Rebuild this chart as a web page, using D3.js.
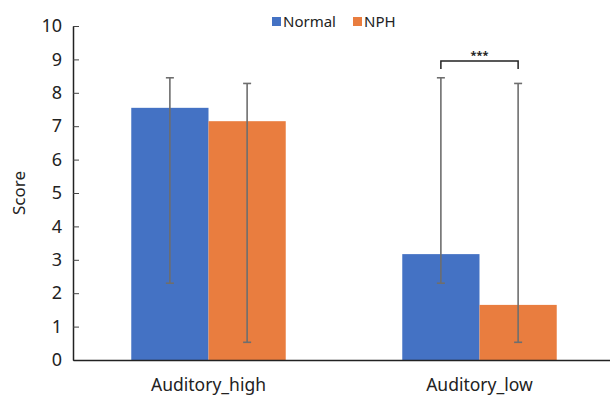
<!DOCTYPE html>
<html>
<head>
<meta charset="utf-8">
<script src="https://cdn.jsdelivr.net/npm/d3@7/dist/d3.min.js"></script>
<style>
  body { margin: 0; background: #fff; }
  text { font-family: "Noto Sans", sans-serif; fill: #222; }
</style>
</head>
<body>
<div id="chart"></div>
<script>
const width = 610;
const height = 397;

const categories = ["Auditory_high", "Auditory_low"];
const groups = ["Normal", "NPH"];
const normalValues = [7.55, 3.17];
const nphValues = [7.15, 1.65];
const normalErrLow = [2.3, 2.3];
const normalErrHigh = [8.45, 8.45];
const nphErrLow = [0.53, 0.53];
const nphErrHigh = [8.28, 8.28];
const yTicks = [0, 1, 2, 3, 4, 5, 6, 7, 8, 9, 10];

const colors = { Normal: "#4472c4", NPH: "#e97d3f" };

const margin = { top: 26, right: -5, bottom: 37, left: 73 };

const rows = categories.map((c, i) => ({
  category: c,
  bars: [
    { group: "Normal", value: normalValues[i], lo: normalErrLow[i], hi: normalErrHigh[i] },
    { group: "NPH", value: nphValues[i], lo: nphErrLow[i], hi: nphErrHigh[i] },
  ],
}));

const svg = d3.select("#chart").append("svg")
  .attr("width", width)
  .attr("height", height);

const x = d3.scaleBand()
  .domain(categories)
  .range([margin.left, width - margin.right])
  .paddingInner(0.43)
  .paddingOuter(0.215);

const xSub = d3.scaleBand()
  .domain(groups)
  .range([0, x.bandwidth()]);

const y = d3.scaleLinear()
  .domain([0, 10])
  .range([height - margin.bottom, margin.top]);

// bars
const cat = svg.selectAll(".cat")
  .data(rows)
  .join("g")
  .attr("class", "cat")
  .attr("transform", d => `translate(${x(d.category)},0)`);

cat.selectAll("rect")
  .data(d => d.bars)
  .join("rect")
  .attr("x", d => xSub(d.group))
  .attr("y", d => y(d.value))
  .attr("width", xSub.bandwidth())
  .attr("height", d => y(0) - y(d.value))
  .attr("fill", d => colors[d.group]);

// error bars
const err = cat.selectAll(".err")
  .data(d => d.bars)
  .join("g")
  .attr("class", "err")
  .attr("stroke", "#6e6e6e")
  .attr("stroke-width", 1.6);

err.append("line")
  .attr("x1", d => xSub(d.group) + xSub.bandwidth() / 2)
  .attr("x2", d => xSub(d.group) + xSub.bandwidth() / 2)
  .attr("y1", d => y(d.lo))
  .attr("y2", d => y(d.hi));

["lo", "hi"].forEach(k => {
  err.append("line")
    .attr("x1", d => xSub(d.group) + xSub.bandwidth() / 2 - 4)
    .attr("x2", d => xSub(d.group) + xSub.bandwidth() / 2 + 4)
    .attr("y1", d => y(d[k]))
    .attr("y2", d => y(d[k]));
});

// y axis
const yAxis = svg.append("g")
  .attr("transform", `translate(${margin.left},0)`)
  .call(d3.axisLeft(y).tickValues(yTicks).tickSizeInner(-6).tickSizeOuter(0).tickPadding(11));
yAxis.select(".domain").attr("stroke", "#222").attr("stroke-width", 1.5);
yAxis.selectAll(".tick line").attr("stroke", "#444");
yAxis.selectAll("text").style("font-size", "18px").attr("fill", "#222");

// x axis
const xAxis = svg.append("g")
  .attr("transform", `translate(0,${y(0)})`)
  .call(d3.axisBottom(x).tickSize(0).tickPadding(19));
xAxis.select(".domain").attr("stroke", "#222").attr("stroke-width", 1.5);
xAxis.selectAll("text").style("font-size", "17.5px").attr("fill", "#222");

svg.append("text")
  .attr("transform", `translate(25,${(y(0) + y(10)) / 2}) rotate(-90)`)
  .attr("text-anchor", "middle")
  .style("font-size", "17px")
  .text("Score");

// significance bracket
const low = rows[1];
const bx1 = x(low.category) + xSub("Normal") + xSub.bandwidth() / 2;
const bx2 = x(low.category) + xSub("NPH") + xSub.bandwidth() / 2;
const by = y(8.95);
svg.append("path")
  .attr("d", `M${bx1},${by + 8}V${by}H${bx2}V${by + 8}`)
  .attr("fill", "none")
  .attr("stroke", "#222")
  .attr("stroke-width", 1.5);
svg.append("text")
  .attr("x", (bx1 + bx2) / 2)
  .attr("y", by - 2)
  .attr("text-anchor", "middle")
  .style("font-size", "11px")
  .style("font-weight", "bold")
  .text("***");

// legend
const legend = svg.append("g").attr("transform", "translate(272,0)");
const legendX = [0, 81];
groups.forEach((g, i) => {
  legend.append("rect")
    .attr("x", legendX[i])
    .attr("y", 17)
    .attr("width", 9)
    .attr("height", 9)
    .attr("fill", colors[g]);
  legend.append("text")
    .attr("x", legendX[i] + 11)
    .attr("y", 27)
    .style("font-size", "15px")
    .text(g);
});
</script>
</body>
</html>
